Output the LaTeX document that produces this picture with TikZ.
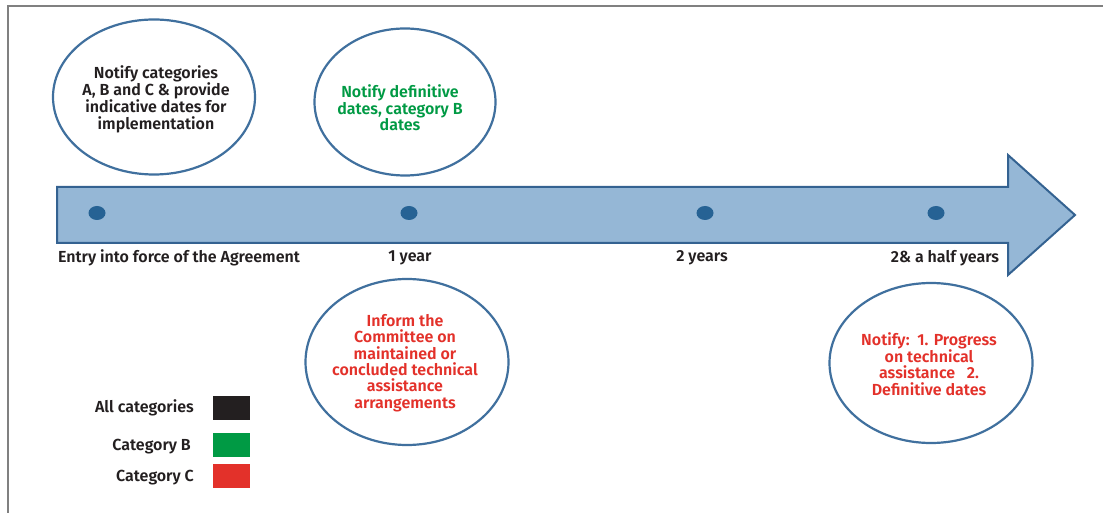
\documentclass[tikz,border=0pt]{standalone}
\usepackage{fontspec}
\setmainfont{Fira Sans}[BoldFont={Fira Sans SemiBold}]
\usetikzlibrary{shapes.geometric}
\definecolor{arrowfill}{RGB}{149,183,214}
\definecolor{arrowline}{RGB}{52,98,145}
\definecolor{dotblue}{RGB}{38,98,148}
\definecolor{ellline}{RGB}{64,112,158}
\definecolor{catgreen}{RGB}{0,154,68}
\definecolor{catred}{RGB}{227,49,42}
\definecolor{txtblack}{RGB}{35,31,32}
\definecolor{framegray}{RGB}{128,128,128}
\begin{document}
\begin{tikzpicture}[x=1pt,y=-1pt,
  bubble/.style={ellipse, draw=ellline, line width=2.2pt, fill=white, inner sep=0pt},
  txt/.style={font=\fontsize{16}{16.3}\selectfont\bfseries, text=txtblack, align=center, inner sep=0pt},
  dot/.style={ellipse, fill=dotblue, minimum width=17pt, minimum height=14pt, inner sep=0pt},
  swatch/.style={minimum width=37pt, minimum height=24pt, inner sep=0pt}]
\useasboundingbox (0,0) rectangle (1103,513);
\draw[framegray, line width=1.2pt] (8,513) -- (8,6) -- (1103,6);
\draw[arrowline, fill=arrowfill, line width=2pt, line join=miter]
  (57,187) -- (1008,187) -- (1008,155) -- (1075,215) -- (1008,275) -- (1008,243) -- (57,243) -- cycle;
% dots
\node[dot] (d0) at (97,213) {};
\node[dot] (d1) at (409,213) {};
\node[dot] (d2) at (705,213) {};
\node[dot] (d3) at (936,213) {};
% timeline labels
\node[txt] (l0) at (179,258) {Entry into force of the Agreement};
\node[txt] (l1) at (410,258) {1 year};
\node[txt] (l2) at (702,258) {2 years};
\node[txt] (l3) at (945,258) {2\& a half years};
% bubbles
\node[bubble, minimum width=202pt, minimum height=155pt] (e1) at (154,97) {};
\node[txt] (t1) at (156,99) {Notify categories\\A, B and C \& provide\\indicative dates for\\implementation};
\node[bubble, minimum width=181pt, minimum height=147pt] (e2) at (405,102) {};
\node[txt, text=catgreen] (t2) at (400,108) {Notify definitive\\dates, category B\\dates};
\node[bubble, minimum width=203pt, minimum height=166pt] (e3) at (407,362) {};
\node[txt, text=catred] (t3) at (405,363) {Inform the\\Committee on\\maintained or\\concluded technical\\assistance\\arrangements};
\node[bubble, minimum width=203pt, minimum height=160pt] (e4) at (931,363) {};
\node[txt, text=catred] (t4) at (929,364) {Notify:\ \ 1. Progress\\on technical\\assistance\ \ \ 2.\\Definitive dates};
% legend
\node[txt, anchor=east] (la) at (194,408) {All categories};
\node[swatch, fill=txtblack] (sa) at (231.5,408) {};
\node[txt, anchor=east] (lb) at (191,447) {Category B};
\node[swatch, fill=catgreen] (sb) at (231.5,445) {};
\node[txt, anchor=east] (lc) at (194,478) {Category C};
\node[swatch, fill=catred] (sc) at (231.5,476) {};
\end{tikzpicture}
\end{document}
